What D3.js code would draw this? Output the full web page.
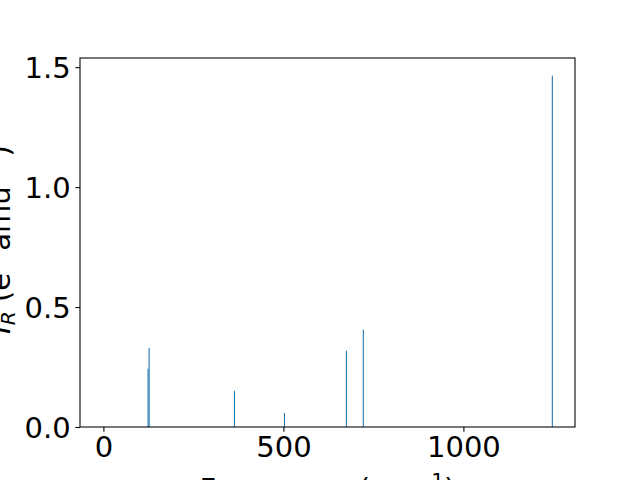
<!DOCTYPE html>
<html>
<head>
<meta charset="utf-8">
<script src="https://d3js.org/d3.v7.min.js"></script>
<style>
    body { margin: 0; background: #fff; }
    svg { display: block; font-family: "DejaVu Sans", sans-serif; }
</style>
</head>
<body>
<div id="chart"></div>
<script>
// vibrational modes
var frequencies = [124, 127, 364, 503, 675, 722, 1247];
var intensities = [0.243, 0.33, 0.151, 0.058, 0.318, 0.406, 1.465];
var xTicks = [0, 500, 1000];
var yTicks = [0.0, 0.5, 1.0, 1.5];
var xLimits = [-65, 1310];

var width = 640,
    height = 480,
    margin = {top: 58, right: 65, bottom: 53, left: 80};
var fontSize = 29,
    tickLen = 4.67,
    blue = "#1f77b4";

var data = frequencies.map(function(f, i) {
    return {freq: f, value: intensities[i]};
});

var svg = d3.select("#chart")
    .append("svg")
    .attr("width", width)
    .attr("height", height);

var x = d3.scaleLinear()
    .domain(xLimits)
    .range([margin.left, width - margin.right]);

var yMax = d3.max(intensities) * 1.05;
var y = d3.scaleLinear()
    .domain([0, yMax])
    .range([height - margin.bottom, margin.top]);

// bars (very thin, width is a few cm^-1)
var barWidth = 3;
svg.append("g")
    .selectAll("rect")
    .data(data)
    .enter().append("rect")
    .attr("x", function(d) { return x(d.freq - barWidth / 2); })
    .attr("width", function(d) { return x(d.freq + barWidth / 2) - x(d.freq - barWidth / 2); })
    .attr("y", function(d) { return y(d.value); })
    .attr("height", function(d) { return y(0) - y(d.value); })
    .style("fill", blue);

// axes
var xAxis = d3.axisBottom(x)
    .tickValues(xTicks)
    .tickFormat(d3.format("d"))
    .tickSize(tickLen)
    .tickPadding(4.67)
    .tickSizeOuter(0);

var yAxis = d3.axisLeft(y)
    .tickValues(yTicks)
    .tickFormat(d3.format(".1f"))
    .tickSize(tickLen)
    .tickPadding(4.67)
    .tickSizeOuter(0);

var gx = svg.append("g")
    .attr("transform", "translate(0," + (height - margin.bottom) + ")")
    .call(xAxis);
var gy = svg.append("g")
    .attr("transform", "translate(" + margin.left + ",0)")
    .call(yAxis);

[gx, gy].forEach(function(g) {
    g.select(".domain").remove();
    g.selectAll(".tick line").attr("stroke", "#000").attr("stroke-width", 1.07);
    g.selectAll(".tick text")
        .attr("fill", "#000")
        .style("font-size", fontSize + "px")
        .style("font-family", "DejaVu Sans, sans-serif");
});
gy.selectAll(".tick text").attr("dy", "0.36em");
gx.selectAll(".tick text").attr("dy", "0.72em");

// frame
svg.append("rect")
    .attr("x", margin.left)
    .attr("y", margin.top)
    .attr("width", width - margin.left - margin.right)
    .attr("height", height - margin.top - margin.bottom)
    .attr("fill", "none")
    .attr("stroke", "#000")
    .attr("stroke-width", 1.07);

// x label: Frequency (cm^-1), mostly below the window as in the original
var xl = svg.append("text")
    .attr("x", (margin.left + width - margin.right) / 2)
    .attr("y", 499)
    .attr("text-anchor", "middle")
    .style("font-size", fontSize + "px");
xl.append("tspan").text("Frequency (cm");
xl.append("tspan").attr("dy", -12).style("font-size", (fontSize * 0.7) + "px").text("\u22121");
xl.append("tspan").attr("dy", 12).text(")");

// y label: I_R (e^2 amu^-1)
var yl = svg.append("text")
    .attr("transform", "translate(10," + ((margin.top + height - margin.bottom) / 2 - 3) + ") rotate(-90)")
    .attr("text-anchor", "middle")
    .style("font-size", fontSize + "px");
yl.append("tspan").style("font-style", "italic").text("I");
yl.append("tspan").attr("dy", 5).style("font-style", "italic").style("font-size", (fontSize * 0.7) + "px").text("R");
yl.append("tspan").attr("dy", -5).text(" (e");
yl.append("tspan").attr("dy", -12).style("font-size", (fontSize * 0.7) + "px").text("2");
yl.append("tspan").attr("dy", 12).text(" amu");
yl.append("tspan").attr("dy", -12).style("font-size", (fontSize * 0.7) + "px").text("\u22121");
yl.append("tspan").attr("dy", 12).text(")");
</script>
</body>
</html>
